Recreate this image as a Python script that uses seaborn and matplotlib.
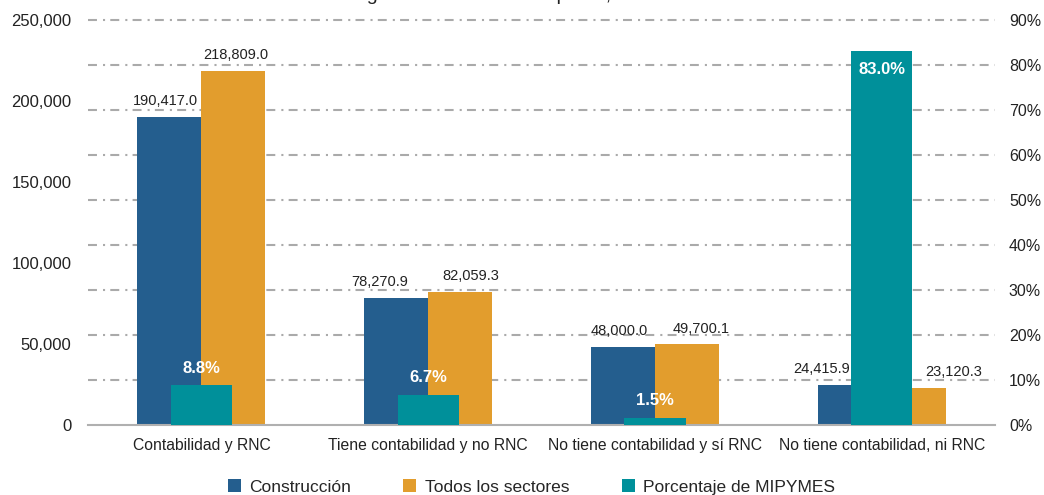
import pandas as pd
import seaborn as sns
import matplotlib.pyplot as plt
from matplotlib.ticker import FuncFormatter, MultipleLocator

# datos
categorias = ["Contabilidad y RNC", "Tiene contabilidad y no RNC",
              "No tiene contabilidad y sí RNC", "No tiene contabilidad, ni RNC"]
construccion = [190417.0, 78270.9, 48000.0, 24415.9]
todos_sectores = [218809.0, 82059.3, 49700.1, 23120.3]
pct_mipymes = [0.088, 0.067, 0.015, 0.830]

serie_a = "Construcción"
serie_b = "Todos los sectores"
serie_c = "Porcentaje de MIPYMES"

azul = "#245e8e"
naranja = "#e29d2d"
verde = "#00909a"

sns.set_theme(style="white")
plt.rcParams['font.family'] = ['Liberation Sans', 'DejaVu Sans']

df = pd.DataFrame({
    "categoria": categorias * 2,
    "serie": [serie_a] * 4 + [serie_b] * 4,
    "valor": construccion + todos_sectores,
})
df_pct = pd.DataFrame({"categoria": categorias, "pct": pct_mipymes})

fig = plt.figure(figsize=(10.44, 4.95), dpi=100)
ax = fig.add_axes([0.0843, 0.1414, 0.8688, 0.8182])

sns.barplot(data=df, x="categoria", y="valor", hue="serie", order=categorias,
            palette=[azul, naranja], width=0.564, ax=ax, legend=False,
            saturation=1, edgecolor="none")
ax.set_ylim(0, 250000)
ax.set_xlim(-0.5, 3.5)
ax.yaxis.set_major_locator(MultipleLocator(50000))
ax.yaxis.set_major_formatter(FuncFormatter(lambda v, p: f"{v:,.0f}"))
# lineas de cuadricula alineadas con el eje de porcentaje (cada 10%)
for k in range(1, 10):
    ax.axhline(250000 / 9 * k, color="#aaaaaa", linewidth=1.5,
               linestyle=(0, (4.3, 2.9, 1.0, 2.5)), zorder=0.5, clip_on=False)
ax.tick_params(axis="y", which="both", length=0, labelsize=12, pad=12, colors="#222222")
ax.set_xticks(range(4))
ax.set_xticklabels(categorias)
ax.tick_params(axis="x", which="major", length=0, labelsize=11.3, pad=9, colors="#222222")
ax.set_xticks([-0.5, 0.5, 1.5, 2.5, 3.5], minor=True)
ax.tick_params(axis="x", which="minor", length=5, width=1.2, color="#b0b0b0", direction="out")
ax.set_xlabel("")
ax.set_ylabel("")
for s in ["top", "left", "right"]:
    ax.spines[s].set_visible(False)
ax.spines["bottom"].set_color("#b0b0b0")
ax.spines["bottom"].set_linewidth(1.5)

ax2 = ax.twinx()
sns.barplot(data=df_pct, x="categoria", y="pct", order=categorias, color=verde,
            width=0.27, ax=ax2, saturation=1, edgecolor="none")
ax2.set_ylim(0, 0.9)
ax2.yaxis.set_major_locator(MultipleLocator(0.1))
ax2.yaxis.set_major_formatter(FuncFormatter(lambda v, p: f"{v * 100:.0f}%"))
ax2.tick_params(axis="y", length=0, labelsize=11.5, pad=10, colors="#222222")
ax2.set_ylabel("")
for s in ["top", "left", "right", "bottom"]:
    ax2.spines[s].set_visible(False)

# etiquetas de valores (en ax2 para quedar encima de las barras verdes)
off_a = [-4, -16, -4, -28]
off_b = [2, 11, 14, 40]
for bars, offs in zip(ax.containers, [off_a, off_b]):
    for bar, dx in zip(bars, offs):
        h = bar.get_height()
        ax2.annotate(f"{h:,.1f}", (bar.get_x() + bar.get_width() / 2, h),
                     xycoords=ax.transData,
                     xytext=(dx * 0.72, 11.5), textcoords="offset points",
                     ha="center", va="center", fontsize=10.5, color="#222222")

for bar in ax2.containers[0]:
    h = bar.get_height()
    dy = -13 if h > 0.5 else 12.5
    ax2.annotate(f"{h * 100:.1f}%", (bar.get_x() + bar.get_width() / 2, h),
                 xytext=(0, dy), textcoords="offset points",
                 ha="center", va="center", fontsize=12, fontweight="bold", color="white")

# leyenda
handles = [ax.containers[0][0], ax.containers[1][0], ax2.containers[0][0]]
fig.legend(handles, [serie_a, serie_b, serie_c], loc="center", bbox_to_anchor=(0.5091, 0.016),
           ncol=3, frameon=False, fontsize=12.5, handlelength=0.75, handleheight=0.75,
           handletextpad=0.5, columnspacing=3.0, borderaxespad=0)

fig.text(0.5, 1 - 0.5 / 495, "según formalidad de empresa, año 2023", ha="center",
         va="baseline", fontsize=14, color="#222222")

fig.savefig("out.png", dpi=100)
